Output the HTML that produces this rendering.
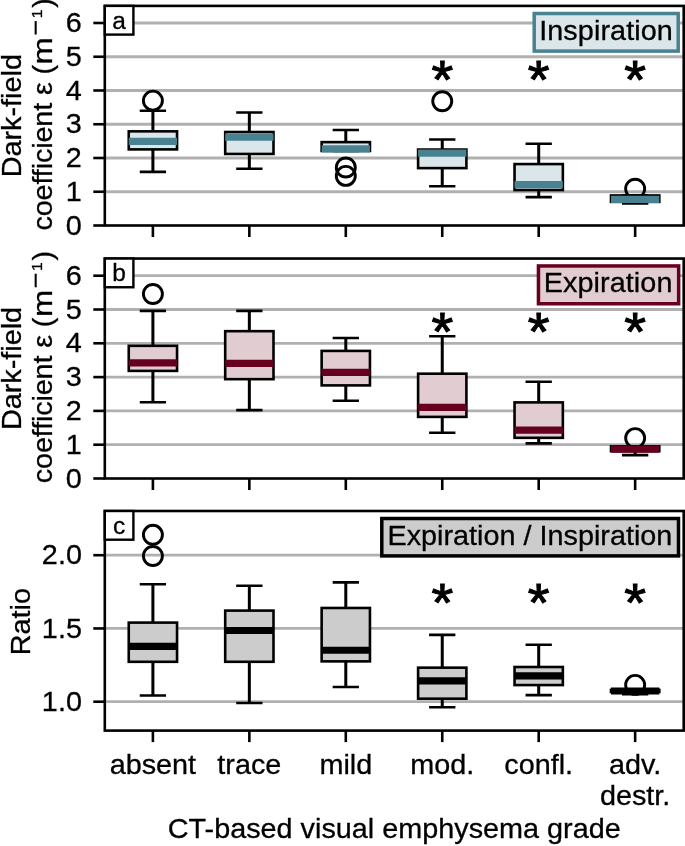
<!DOCTYPE html>
<html lang="en"><head><meta charset="utf-8"><title>Dark-field coefficient by CT-based visual emphysema grade</title>
<style>html,body{margin:0;padding:0;background:#fff}svg{display:block}text{stroke:#000;stroke-width:.3px;font-variant-ligatures:none}</style></head>
<body>
<svg width="685" height="846" viewBox="0 0 685 846" font-family='"Liberation Sans", Arial, Helvetica, sans-serif'>
<rect width="685" height="846" fill="#fff"/>
<g>
<line x1="104.8" x2="683.7" y1="191.75" y2="191.75" stroke="#b0b0b0" stroke-width="2.8"/>
<line x1="104.8" x2="683.7" y1="158.00" y2="158.00" stroke="#b0b0b0" stroke-width="2.8"/>
<line x1="104.8" x2="683.7" y1="124.25" y2="124.25" stroke="#b0b0b0" stroke-width="2.8"/>
<line x1="104.8" x2="683.7" y1="90.50" y2="90.50" stroke="#b0b0b0" stroke-width="2.8"/>
<line x1="104.8" x2="683.7" y1="56.75" y2="56.75" stroke="#b0b0b0" stroke-width="2.8"/>
<line x1="104.8" x2="683.7" y1="23.00" y2="23.00" stroke="#b0b0b0" stroke-width="2.8"/>
<circle cx="152.90" cy="100.62" r="9.5" fill="none" stroke="#000" stroke-width="2.9"/>
<path d="M152.90 131.34V110.75M152.90 149.39V171.84" stroke="#000" stroke-width="3.0" fill="none"/>
<path d="M139.75 110.75H166.05M139.75 171.84H166.05" stroke="#000" stroke-width="2.6" fill="none"/>
<rect x="128.75" y="131.34" width="48.3" height="18.06" fill="#dae6e9" stroke="#000" stroke-width="2.6"/>
<line x1="128.75" x2="177.05" y1="141.46" y2="141.46" stroke="#488190" stroke-width="7.2"/>
<path d="M249.35 132.01V112.44M249.35 153.95V168.80" stroke="#000" stroke-width="3.0" fill="none"/>
<path d="M236.20 112.44H262.50M236.20 168.80H262.50" stroke="#000" stroke-width="2.6" fill="none"/>
<rect x="225.20" y="132.01" width="48.3" height="21.94" fill="#dae6e9" stroke="#000" stroke-width="2.6"/>
<line x1="225.20" x2="273.50" y1="137.07" y2="137.07" stroke="#488190" stroke-width="7.2"/>
<circle cx="345.80" cy="167.45" r="9.5" fill="none" stroke="#000" stroke-width="2.9"/>
<circle cx="345.80" cy="175.89" r="9.5" fill="none" stroke="#000" stroke-width="2.9"/>
<path d="M345.80 142.14V129.99M345.80 150.91V150.91" stroke="#000" stroke-width="3.0" fill="none"/>
<path d="M332.65 129.99H358.95M332.65 150.91H358.95" stroke="#000" stroke-width="2.6" fill="none"/>
<rect x="321.65" y="142.14" width="48.3" height="8.78" fill="#dae6e9" stroke="#000" stroke-width="2.6"/>
<line x1="321.65" x2="369.95" y1="148.89" y2="148.89" stroke="#488190" stroke-width="7.2"/>
<circle cx="442.25" cy="101.30" r="9.5" fill="none" stroke="#000" stroke-width="2.9"/>
<path d="M442.25 149.56V139.44M442.25 168.12V186.18" stroke="#000" stroke-width="3.0" fill="none"/>
<path d="M429.10 139.44H455.40M429.10 186.18H455.40" stroke="#000" stroke-width="2.6" fill="none"/>
<rect x="418.10" y="149.56" width="48.3" height="18.56" fill="#dae6e9" stroke="#000" stroke-width="2.6"/>
<line x1="418.10" x2="466.40" y1="153.11" y2="153.11" stroke="#488190" stroke-width="7.2"/>
<path d="M538.70 164.07V143.82M538.70 190.06V197.15" stroke="#000" stroke-width="3.0" fill="none"/>
<path d="M525.55 143.82H551.85M525.55 197.15H551.85" stroke="#000" stroke-width="2.6" fill="none"/>
<rect x="514.55" y="164.07" width="48.3" height="25.99" fill="#dae6e9" stroke="#000" stroke-width="2.6"/>
<line x1="514.55" x2="562.85" y1="184.66" y2="184.66" stroke="#488190" stroke-width="7.2"/>
<circle cx="635.15" cy="188.71" r="9.5" fill="none" stroke="#000" stroke-width="2.9"/>
<path d="M635.15 195.46V195.46M635.15 201.88V203.56" stroke="#000" stroke-width="3.0" fill="none"/>
<path d="M622.00 195.46H648.30M622.00 203.56H648.30" stroke="#000" stroke-width="2.6" fill="none"/>
<rect x="611.00" y="195.46" width="48.3" height="6.41" fill="#dae6e9" stroke="#000" stroke-width="2.6"/>
<line x1="611.00" x2="659.30" y1="199.31" y2="199.31" stroke="#488190" stroke-width="7.2"/>
<text transform="translate(442.25,97.80) scale(0.98,0.93)" font-size="57" style="stroke-width:1.1px" text-anchor="middle">*</text>
<text transform="translate(538.70,97.80) scale(0.98,0.93)" font-size="57" style="stroke-width:1.1px" text-anchor="middle">*</text>
<text transform="translate(635.15,97.80) scale(0.98,0.93)" font-size="57" style="stroke-width:1.1px" text-anchor="middle">*</text>
<rect x="104.8" y="5.9" width="578.9000000000001" height="219.6" fill="none" stroke="#000" stroke-width="2.6"/>
<line x1="93.3" x2="104.8" y1="225.50" y2="225.50" stroke="#000" stroke-width="2.6"/>
<text transform="translate(81.9,234.60) scale(1,0.985)" font-size="28.8" text-anchor="end">0</text>
<line x1="93.3" x2="104.8" y1="191.75" y2="191.75" stroke="#000" stroke-width="2.6"/>
<text transform="translate(81.9,200.85) scale(1,0.985)" font-size="28.8" text-anchor="end">1</text>
<line x1="93.3" x2="104.8" y1="158.00" y2="158.00" stroke="#000" stroke-width="2.6"/>
<text transform="translate(81.9,167.10) scale(1,0.985)" font-size="28.8" text-anchor="end">2</text>
<line x1="93.3" x2="104.8" y1="124.25" y2="124.25" stroke="#000" stroke-width="2.6"/>
<text transform="translate(81.9,133.35) scale(1,0.985)" font-size="28.8" text-anchor="end">3</text>
<line x1="93.3" x2="104.8" y1="90.50" y2="90.50" stroke="#000" stroke-width="2.6"/>
<text transform="translate(81.9,99.60) scale(1,0.985)" font-size="28.8" text-anchor="end">4</text>
<line x1="93.3" x2="104.8" y1="56.75" y2="56.75" stroke="#000" stroke-width="2.6"/>
<text transform="translate(81.9,65.85) scale(1,0.985)" font-size="28.8" text-anchor="end">5</text>
<line x1="93.3" x2="104.8" y1="23.00" y2="23.00" stroke="#000" stroke-width="2.6"/>
<text transform="translate(81.9,32.10) scale(1,0.985)" font-size="28.8" text-anchor="end">6</text>
<line x1="152.90" x2="152.90" y1="225.5" y2="237.0" stroke="#000" stroke-width="2.6"/>
<line x1="249.35" x2="249.35" y1="225.5" y2="237.0" stroke="#000" stroke-width="2.6"/>
<line x1="345.80" x2="345.80" y1="225.5" y2="237.0" stroke="#000" stroke-width="2.6"/>
<line x1="442.25" x2="442.25" y1="225.5" y2="237.0" stroke="#000" stroke-width="2.6"/>
<line x1="538.70" x2="538.70" y1="225.5" y2="237.0" stroke="#000" stroke-width="2.6"/>
<line x1="635.15" x2="635.15" y1="225.5" y2="237.0" stroke="#000" stroke-width="2.6"/>
<rect x="104.8" y="5.9" width="28.6" height="28.7" fill="#fff" stroke="#000" stroke-width="2.4"/>
<text transform="translate(119.1,28.799999999999997) scale(1,0.985)" font-size="24.5" text-anchor="middle">a</text>
<rect x="534.2" y="13.5" width="144.00" height="37.60" fill="#dae6e9" stroke="#488190" stroke-width="3.5"/>
<text transform="translate(539.2,40.0) scale(1,0.985)" font-size="28.8" letter-spacing="0.08">Inspiration</text>
<text transform="translate(20.9,115.70) rotate(-90) scale(1,0.985)" font-size="28.8" text-anchor="middle">Dark-field</text>
<text transform="translate(52.0,0.00) rotate(-90) scale(1,0.985)" font-size="28.8"><tspan x="-230.50" letter-spacing="-0.15">coefficient </tspan><tspan x="-95.00" y="0.00">ε </tspan><tspan x="-74.50" y="0.00">(</tspan><tspan x="-64.40" y="0.00" textLength="27.11" lengthAdjust="spacingAndGlyphs">m</tspan><tspan x="-36.50" y="-10.56" font-size="21" font-family="DejaVu Sans">−</tspan><tspan x="-18.30" y="-9.95" font-size="15.6">1</tspan><tspan x="-7.80" y="0.00">)</tspan></text>
</g>
<g>
<line x1="104.8" x2="683.7" y1="444.70" y2="444.70" stroke="#b0b0b0" stroke-width="2.8"/>
<line x1="104.8" x2="683.7" y1="410.90" y2="410.90" stroke="#b0b0b0" stroke-width="2.8"/>
<line x1="104.8" x2="683.7" y1="377.10" y2="377.10" stroke="#b0b0b0" stroke-width="2.8"/>
<line x1="104.8" x2="683.7" y1="343.30" y2="343.30" stroke="#b0b0b0" stroke-width="2.8"/>
<line x1="104.8" x2="683.7" y1="309.50" y2="309.50" stroke="#b0b0b0" stroke-width="2.8"/>
<line x1="104.8" x2="683.7" y1="275.70" y2="275.70" stroke="#b0b0b0" stroke-width="2.8"/>
<circle cx="152.90" cy="293.99" r="9.5" fill="none" stroke="#000" stroke-width="2.9"/>
<path d="M152.90 345.81V310.89M152.90 370.88V402.29" stroke="#000" stroke-width="3.0" fill="none"/>
<path d="M139.75 310.89H166.05M139.75 402.29H166.05" stroke="#000" stroke-width="2.6" fill="none"/>
<rect x="128.75" y="345.81" width="48.3" height="25.08" fill="#e1ccd2" stroke="#000" stroke-width="2.6"/>
<line x1="128.75" x2="177.05" y1="362.81" y2="362.81" stroke="#67001f" stroke-width="7.2"/>
<path d="M249.35 331.17V310.89M249.35 379.17V410.09" stroke="#000" stroke-width="3.0" fill="none"/>
<path d="M236.20 310.89H262.50M236.20 410.09H262.50" stroke="#000" stroke-width="2.6" fill="none"/>
<rect x="225.20" y="331.17" width="48.3" height="48.00" fill="#e1ccd2" stroke="#000" stroke-width="2.6"/>
<line x1="225.20" x2="273.50" y1="363.42" y2="363.42" stroke="#67001f" stroke-width="7.2"/>
<path d="M345.80 350.91V338.00M345.80 385.39V400.70" stroke="#000" stroke-width="3.0" fill="none"/>
<path d="M332.65 338.00H358.95M332.65 400.70H358.95" stroke="#000" stroke-width="2.6" fill="none"/>
<rect x="321.65" y="350.91" width="48.3" height="34.48" fill="#e1ccd2" stroke="#000" stroke-width="2.6"/>
<line x1="321.65" x2="369.95" y1="372.30" y2="372.30" stroke="#67001f" stroke-width="7.2"/>
<path d="M442.25 373.69V336.24M442.25 416.89V432.81" stroke="#000" stroke-width="3.0" fill="none"/>
<path d="M429.10 336.24H455.40M429.10 432.81H455.40" stroke="#000" stroke-width="2.6" fill="none"/>
<rect x="418.10" y="373.69" width="48.3" height="43.20" fill="#e1ccd2" stroke="#000" stroke-width="2.6"/>
<line x1="418.10" x2="466.40" y1="407.29" y2="407.29" stroke="#67001f" stroke-width="7.2"/>
<path d="M538.70 402.39V381.80M538.70 437.81V443.39" stroke="#000" stroke-width="3.0" fill="none"/>
<path d="M525.55 381.80H551.85M525.55 443.39H551.85" stroke="#000" stroke-width="2.6" fill="none"/>
<rect x="514.55" y="402.39" width="48.3" height="35.42" fill="#e1ccd2" stroke="#000" stroke-width="2.6"/>
<line x1="514.55" x2="562.85" y1="430.10" y2="430.10" stroke="#67001f" stroke-width="7.2"/>
<circle cx="635.15" cy="438.11" r="9.5" fill="none" stroke="#000" stroke-width="2.9"/>
<path d="M635.15 446.29V446.29M635.15 451.16V455.11" stroke="#000" stroke-width="3.0" fill="none"/>
<path d="M622.00 446.29H648.30M622.00 455.11H648.30" stroke="#000" stroke-width="2.6" fill="none"/>
<rect x="611.00" y="446.29" width="48.3" height="4.87" fill="#e1ccd2" stroke="#000" stroke-width="2.6"/>
<line x1="611.00" x2="659.30" y1="449.10" y2="449.10" stroke="#67001f" stroke-width="7.2"/>
<text transform="translate(442.25,350.30) scale(0.98,0.93)" font-size="57" style="stroke-width:1.1px" text-anchor="middle">*</text>
<text transform="translate(538.70,350.30) scale(0.98,0.93)" font-size="57" style="stroke-width:1.1px" text-anchor="middle">*</text>
<text transform="translate(635.15,350.30) scale(0.98,0.93)" font-size="57" style="stroke-width:1.1px" text-anchor="middle">*</text>
<rect x="104.8" y="258.55" width="578.9000000000001" height="219.95" fill="none" stroke="#000" stroke-width="2.6"/>
<line x1="93.3" x2="104.8" y1="478.50" y2="478.50" stroke="#000" stroke-width="2.6"/>
<text transform="translate(81.9,487.60) scale(1,0.985)" font-size="28.8" text-anchor="end">0</text>
<line x1="93.3" x2="104.8" y1="444.70" y2="444.70" stroke="#000" stroke-width="2.6"/>
<text transform="translate(81.9,453.80) scale(1,0.985)" font-size="28.8" text-anchor="end">1</text>
<line x1="93.3" x2="104.8" y1="410.90" y2="410.90" stroke="#000" stroke-width="2.6"/>
<text transform="translate(81.9,420.00) scale(1,0.985)" font-size="28.8" text-anchor="end">2</text>
<line x1="93.3" x2="104.8" y1="377.10" y2="377.10" stroke="#000" stroke-width="2.6"/>
<text transform="translate(81.9,386.20) scale(1,0.985)" font-size="28.8" text-anchor="end">3</text>
<line x1="93.3" x2="104.8" y1="343.30" y2="343.30" stroke="#000" stroke-width="2.6"/>
<text transform="translate(81.9,352.40) scale(1,0.985)" font-size="28.8" text-anchor="end">4</text>
<line x1="93.3" x2="104.8" y1="309.50" y2="309.50" stroke="#000" stroke-width="2.6"/>
<text transform="translate(81.9,318.60) scale(1,0.985)" font-size="28.8" text-anchor="end">5</text>
<line x1="93.3" x2="104.8" y1="275.70" y2="275.70" stroke="#000" stroke-width="2.6"/>
<text transform="translate(81.9,284.80) scale(1,0.985)" font-size="28.8" text-anchor="end">6</text>
<line x1="152.90" x2="152.90" y1="478.5" y2="490.0" stroke="#000" stroke-width="2.6"/>
<line x1="249.35" x2="249.35" y1="478.5" y2="490.0" stroke="#000" stroke-width="2.6"/>
<line x1="345.80" x2="345.80" y1="478.5" y2="490.0" stroke="#000" stroke-width="2.6"/>
<line x1="442.25" x2="442.25" y1="478.5" y2="490.0" stroke="#000" stroke-width="2.6"/>
<line x1="538.70" x2="538.70" y1="478.5" y2="490.0" stroke="#000" stroke-width="2.6"/>
<line x1="635.15" x2="635.15" y1="478.5" y2="490.0" stroke="#000" stroke-width="2.6"/>
<rect x="104.8" y="258.55" width="28.6" height="28.7" fill="#fff" stroke="#000" stroke-width="2.4"/>
<text transform="translate(119.1,281.45) scale(1,0.985)" font-size="24.5" text-anchor="middle">b</text>
<rect x="538.45" y="265.95" width="140.20" height="37.80" fill="#e1ccd2" stroke="#67001f" stroke-width="3.5"/>
<text transform="translate(543.7,292.4) scale(1,0.985)" font-size="28.8" letter-spacing="0.08">Expiration</text>
<text transform="translate(20.9,368.52) rotate(-90) scale(1,0.985)" font-size="28.8" text-anchor="middle">Dark-field</text>
<text transform="translate(52.0,252.65) rotate(-90) scale(1,0.985)" font-size="28.8"><tspan x="-230.50" letter-spacing="-0.15">coefficient </tspan><tspan x="-95.00" y="0.00">ε </tspan><tspan x="-74.50" y="0.00">(</tspan><tspan x="-64.40" y="0.00" textLength="27.11" lengthAdjust="spacingAndGlyphs">m</tspan><tspan x="-36.50" y="-10.56" font-size="21" font-family="DejaVu Sans">−</tspan><tspan x="-18.30" y="-9.95" font-size="15.6">1</tspan><tspan x="-7.80" y="0.00">)</tspan></text>
</g>
<g>
<line x1="104.8" x2="683.7" y1="701.70" y2="701.70" stroke="#b0b0b0" stroke-width="2.8"/>
<line x1="104.8" x2="683.7" y1="628.45" y2="628.45" stroke="#b0b0b0" stroke-width="2.8"/>
<line x1="104.8" x2="683.7" y1="555.20" y2="555.20" stroke="#b0b0b0" stroke-width="2.8"/>
<circle cx="152.90" cy="556.03" r="9.5" fill="none" stroke="#000" stroke-width="2.9"/>
<circle cx="152.90" cy="534.82" r="9.5" fill="none" stroke="#000" stroke-width="2.9"/>
<path d="M152.90 622.60V584.27M152.90 661.81V695.46" stroke="#000" stroke-width="3.0" fill="none"/>
<path d="M139.75 584.27H166.05M139.75 695.46H166.05" stroke="#000" stroke-width="2.6" fill="none"/>
<rect x="128.75" y="622.60" width="48.3" height="39.21" fill="#cccccc" stroke="#000" stroke-width="2.6"/>
<line x1="128.75" x2="177.05" y1="646.30" y2="646.30" stroke="#000000" stroke-width="7.2"/>
<path d="M249.35 610.60V585.73M249.35 661.81V703.06" stroke="#000" stroke-width="3.0" fill="none"/>
<path d="M236.20 585.73H262.50M236.20 703.06H262.50" stroke="#000" stroke-width="2.6" fill="none"/>
<rect x="225.20" y="610.60" width="48.3" height="51.20" fill="#cccccc" stroke="#000" stroke-width="2.6"/>
<line x1="225.20" x2="273.50" y1="630.50" y2="630.50" stroke="#000000" stroke-width="7.2"/>
<path d="M345.80 607.97V582.37M345.80 661.37V686.97" stroke="#000" stroke-width="3.0" fill="none"/>
<path d="M332.65 582.37H358.95M332.65 686.97H358.95" stroke="#000" stroke-width="2.6" fill="none"/>
<rect x="321.65" y="607.97" width="48.3" height="53.40" fill="#cccccc" stroke="#000" stroke-width="2.6"/>
<line x1="321.65" x2="369.95" y1="650.25" y2="650.25" stroke="#000000" stroke-width="7.2"/>
<path d="M442.25 667.66V634.89M442.25 698.67V707.31" stroke="#000" stroke-width="3.0" fill="none"/>
<path d="M429.10 634.89H455.40M429.10 707.31H455.40" stroke="#000" stroke-width="2.6" fill="none"/>
<rect x="418.10" y="667.66" width="48.3" height="31.02" fill="#cccccc" stroke="#000" stroke-width="2.6"/>
<line x1="418.10" x2="466.40" y1="680.83" y2="680.83" stroke="#000000" stroke-width="7.2"/>
<path d="M538.70 667.00V644.69M538.70 685.07V695.16" stroke="#000" stroke-width="3.0" fill="none"/>
<path d="M525.55 644.69H551.85M525.55 695.16H551.85" stroke="#000" stroke-width="2.6" fill="none"/>
<rect x="514.55" y="667.00" width="48.3" height="18.07" fill="#cccccc" stroke="#000" stroke-width="2.6"/>
<line x1="514.55" x2="562.85" y1="675.85" y2="675.85" stroke="#000000" stroke-width="7.2"/>
<circle cx="635.15" cy="684.92" r="9.5" fill="none" stroke="#000" stroke-width="2.9"/>
<path d="M635.15 689.90V689.90M635.15 691.94V694.28" stroke="#000" stroke-width="3.0" fill="none"/>
<path d="M622.00 689.90H648.30M622.00 694.28H648.30" stroke="#000" stroke-width="2.6" fill="none"/>
<rect x="611.00" y="689.90" width="48.3" height="2.05" fill="#cccccc" stroke="#000" stroke-width="2.6"/>
<line x1="611.00" x2="659.30" y1="690.99" y2="690.99" stroke="#000000" stroke-width="7.2"/>
<text transform="translate(442.25,620.90) scale(0.98,0.93)" font-size="57" style="stroke-width:1.1px" text-anchor="middle">*</text>
<text transform="translate(538.70,620.90) scale(0.98,0.93)" font-size="57" style="stroke-width:1.1px" text-anchor="middle">*</text>
<text transform="translate(635.15,620.90) scale(0.98,0.93)" font-size="57" style="stroke-width:1.1px" text-anchor="middle">*</text>
<rect x="104.8" y="511.0" width="578.9000000000001" height="219.60000000000002" fill="none" stroke="#000" stroke-width="2.6"/>
<line x1="93.3" x2="104.8" y1="701.70" y2="701.70" stroke="#000" stroke-width="2.6"/>
<text transform="translate(81.9,710.80) scale(1,0.985)" font-size="28.8" text-anchor="end">1.0</text>
<line x1="93.3" x2="104.8" y1="628.45" y2="628.45" stroke="#000" stroke-width="2.6"/>
<text transform="translate(81.9,637.55) scale(1,0.985)" font-size="28.8" text-anchor="end">1.5</text>
<line x1="93.3" x2="104.8" y1="555.20" y2="555.20" stroke="#000" stroke-width="2.6"/>
<text transform="translate(81.9,564.30) scale(1,0.985)" font-size="28.8" text-anchor="end">2.0</text>
<line x1="152.90" x2="152.90" y1="730.6" y2="742.1" stroke="#000" stroke-width="2.6"/>
<line x1="249.35" x2="249.35" y1="730.6" y2="742.1" stroke="#000" stroke-width="2.6"/>
<line x1="345.80" x2="345.80" y1="730.6" y2="742.1" stroke="#000" stroke-width="2.6"/>
<line x1="442.25" x2="442.25" y1="730.6" y2="742.1" stroke="#000" stroke-width="2.6"/>
<line x1="538.70" x2="538.70" y1="730.6" y2="742.1" stroke="#000" stroke-width="2.6"/>
<line x1="635.15" x2="635.15" y1="730.6" y2="742.1" stroke="#000" stroke-width="2.6"/>
<rect x="104.8" y="511.0" width="28.6" height="28.7" fill="#fff" stroke="#000" stroke-width="2.4"/>
<text transform="translate(119.1,533.9) scale(1,0.985)" font-size="24.5" text-anchor="middle">c</text>
<rect x="381.8" y="518.5" width="296.70" height="37.40" fill="#cccccc" stroke="#000000" stroke-width="3.5"/>
<text transform="translate(387.5,544.9) scale(1,0.985)" font-size="28.8" letter-spacing="0">Expiration / Inspiration</text>
<text transform="translate(30.3,621.60) rotate(-90) scale(1,0.985)" font-size="28.8" text-anchor="middle">Ratio</text>
</g>
<text transform="translate(152.90,773.5) scale(1,0.985)" font-size="28.8" text-anchor="middle">absent</text>
<text transform="translate(249.35,773.5) scale(1,0.985)" font-size="28.8" text-anchor="middle">trace</text>
<text transform="translate(345.80,773.5) scale(1,0.985)" font-size="28.8" text-anchor="middle">mild</text>
<text transform="translate(442.25,773.5) scale(1,0.985)" font-size="28.8" text-anchor="middle">mod.</text>
<text transform="translate(538.70,773.5) scale(1,0.985)" font-size="28.8" text-anchor="middle">confl.</text>
<text transform="translate(635.15,773.5) scale(1,0.985)" font-size="28.8" text-anchor="middle">adv.</text>
<text transform="translate(635.15,804.5) scale(1,0.985)" font-size="28.8" text-anchor="middle">destr.</text>
<text transform="translate(394.25,837.8) scale(1,0.985)" font-size="28.8" text-anchor="middle">CT-based visual emphysema grade</text>
</svg>
</body></html>
